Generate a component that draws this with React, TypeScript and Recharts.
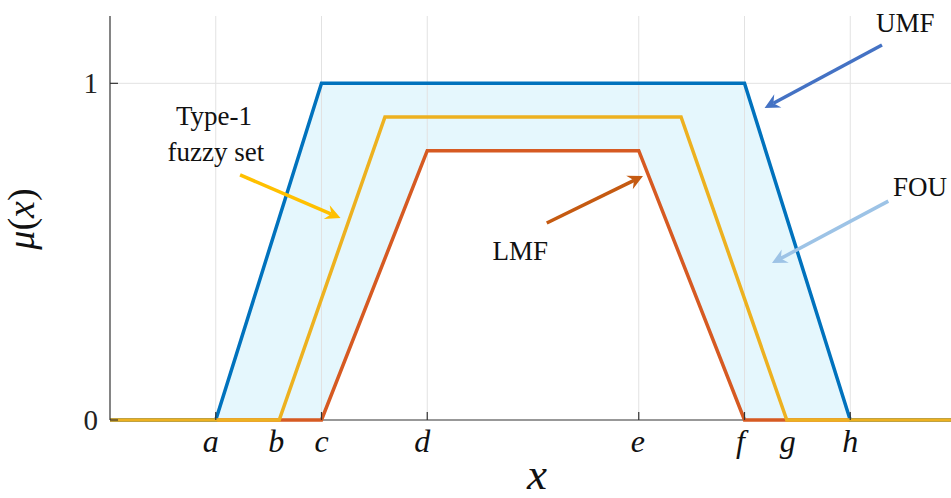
import { ComposedChart, Line, Area, XAxis, YAxis, ReferenceLine, ReferenceDot } from 'recharts';

// Upper membership function (trapezoid a-c-f-h)
const umfX = [0, 1, 2, 6, 7, 8];
const umfY = [0, 0, 1, 1, 0, 0];
// Lower membership function (trapezoid c-d-e-f, height 0.8)
const lmfX = [0, 2, 3, 5, 6, 8];
const lmfY = [0, 0, 0.8, 0.8, 0, 0];
// Embedded type-1 fuzzy set (b ... g, height 0.9)
const t1X = [0, 1.6, 2.6, 5.4, 6.4, 8];
const t1Y = [0, 0, 0.9, 0.9, 0, 0];

// Footprint of uncertainty: band between LMF and UMF at their corners
const fouX = [0, 1, 2, 3, 5, 6, 7, 8];
const fouLow = [0, 0, 0, 0.8, 0.8, 0, 0, 0];
const fouHigh = [0, 0, 1, 1, 1, 1, 0, 0];

const tickValues = [1, 1.6, 2, 3, 5, 6, 6.4, 7];
const tickNames = ['a', 'b', 'c', 'd', 'e', 'f', 'g', 'h'];
const gridValues = [1, 2, 3, 5, 6, 7];
const yTicks = [0, 1];

// italic glyphs sit a little left of their tick
const tickNudge = [-5, -3, 0, -5, -1, -4, 1, 0];

const umfData = umfX.map((x, i) => ({ x, y: umfY[i] }));
const lmfData = lmfX.map((x, i) => ({ x, y: lmfY[i] }));
const t1Data = t1X.map((x, i) => ({ x, y: t1Y[i] }));
const fouData = fouX.map((x, i) => ({ x, band: [fouLow[i], fouHigh[i]] }));

const SERIF = '"Liberation Serif", "DejaVu Serif", serif';
const AXIS = '#333333';

function XTick(props: any) {
  const { x, y, payload } = props;
  const i = tickValues.indexOf(payload.value);
  const marked = gridValues.includes(payload.value);
  return (
    <g>
      {marked && <line x1={x} x2={x} y1={y} y2={y - 8} stroke={AXIS} strokeWidth={1.2} />}
      <text x={x + tickNudge[i]} y={y + 32} textAnchor="middle" fontFamily={SERIF} fontStyle="italic" fontSize={32} fill="#111">
        {tickNames[i]}
      </text>
    </g>
  );
}

function YTick(props: any) {
  const { x, y, payload } = props;
  return (
    <g>
      <line x1={x} x2={x + 8} y1={y} y2={y} stroke={AXIS} strokeWidth={1.2} />
      <text x={x - 12} y={y + 10} textAnchor="end" fontFamily={SERIF} fontSize={29} fill="#222">
        {payload.value}
      </text>
    </g>
  );
}

function Arrow(props: any) {
  const { x1, y1, x2, y2, stroke } = props;
  const dx = x2 - x1;
  const dy = y2 - y1;
  const len = Math.hypot(dx, dy) || 1;
  const ux = dx / len;
  const uy = dy / len;
  const px = -uy;
  const py = ux;
  const hl = 15;
  const hw = 7.5;
  const notch = 10;
  const bx = x2 - ux * hl;
  const by = y2 - uy * hl;
  const nx = x2 - ux * notch;
  const ny = y2 - uy * notch;
  const pts = [
    [x2, y2],
    [bx + px * hw, by + py * hw],
    [nx, ny],
    [bx - px * hw, by - py * hw],
  ]
    .map((p) => p.join(','))
    .join(' ');
  return (
    <g>
      <line x1={x1} y1={y1} x2={nx} y2={ny} stroke={stroke} strokeWidth={3.5} />
      <polygon points={pts} fill={stroke} />
    </g>
  );
}

function Note(lines: string[], dxs: number[]) {
  return (p: any) => (
    <text x={p.cx} y={p.cy} textAnchor="middle" fontFamily={SERIF} fontSize={27} fill="#111">
      {lines.map((t, i) => (
        <tspan key={t} x={p.cx + dxs[i]} dy={i === 0 ? 0 : 36}>
          {t}
        </tspan>
      ))}
    </text>
  );
}

function XLabel(props: any) {
  const { viewBox } = props;
  return (
    <text x={viewBox.x + 427} y={viewBox.y + 69} textAnchor="middle" fontFamily={SERIF} fontStyle="italic" fontSize={45} fill="#111">
      x
    </text>
  );
}

function YLabel() {
  return (
    <text transform="translate(34, 219) rotate(-90)" textAnchor="middle" fontFamily={SERIF} fontSize={38} fill="#111">
      <tspan fontStyle="italic">μ</tspan>
      <tspan>(</tspan>
      <tspan fontStyle="italic">x</tspan>
      <tspan>)</tspan>
    </text>
  );
}

export default function App() {
  return (
    <div style={{ position: 'fixed', left: 0, top: 0, width: 951, height: 498, overflow: 'hidden', background: '#fff' }}>
      <ComposedChart width={960} height={498} margin={{ top: 16, right: 4, bottom: 48, left: 50 }}>
        <XAxis
          dataKey="x"
          type="number"
          domain={[0, 8]}
          ticks={tickValues}
          interval={0}
          height={30}
          tickSize={0}
          tickMargin={0}
          tickLine={false}
          axisLine={false}
          tick={<XTick />}
          label={<XLabel />}
        />
        <YAxis
          type="number"
          domain={[0, 1.2]}
          ticks={yTicks}
          width={60}
          tickSize={0}
          tickMargin={0}
          tickLine={false}
          axisLine={{ stroke: AXIS, strokeWidth: 1.2 }}
          tick={<YTick />}
          label={<YLabel />}
        />
        {gridValues.map((v) => (
          <ReferenceLine key={v} x={v} stroke="#e2e2e2" strokeWidth={1} />
        ))}
        <ReferenceLine y={1} stroke="#e2e2e2" strokeWidth={1} />
        <ReferenceLine y={0} stroke={AXIS} strokeWidth={1.2} />
        <Area
          data={fouData}
          dataKey="band"
          type="linear"
          stroke="none"
          fill="#d3f2fb"
          fillOpacity={0.6}
          isAnimationActive={false}
        />
        <Line data={lmfData} dataKey="y" type="linear" stroke="#d65a22" strokeWidth={3.5} dot={false} isAnimationActive={false} />
        <Line data={umfData} dataKey="y" type="linear" stroke="#0072bd" strokeWidth={3.5} dot={false} isAnimationActive={false} />
        <Line data={t1Data} dataKey="y" type="linear" stroke="#edb120" strokeWidth={3.5} dot={false} isAnimationActive={false} />

        <ReferenceLine segment={[{ x: 1.23, y: 0.728 }, { x: 2.18, y: 0.6 }]} stroke="#ffc000" shape={<Arrow />} />
        <ReferenceLine segment={[{ x: 4.13, y: 0.585 }, { x: 5.04, y: 0.725 }]} stroke="#c55a11" shape={<Arrow />} />
        <ReferenceLine segment={[{ x: 7.3, y: 1.114 }, { x: 6.19, y: 0.927 }]} stroke="#4472c4" shape={<Arrow />} />
        <ReferenceLine segment={[{ x: 7.36, y: 0.65 }, { x: 6.26, y: 0.466 }]} stroke="#9dc3e6" shape={<Arrow />} />

        <ReferenceDot x={0.983} y={0.876} r={0} shape={Note(['Type-1', 'fuzzy set'], [0, 2])} />
        <ReferenceDot x={3.88} y={0.475} r={0} shape={Note(['LMF'], [0])} />
        <ReferenceDot x={7.52} y={1.152} r={0} shape={Note(['UMF'], [0])} />
        <ReferenceDot x={7.66} y={0.665} r={0} shape={Note(['FOU'], [0])} />
      </ComposedChart>
    </div>
  );
}
